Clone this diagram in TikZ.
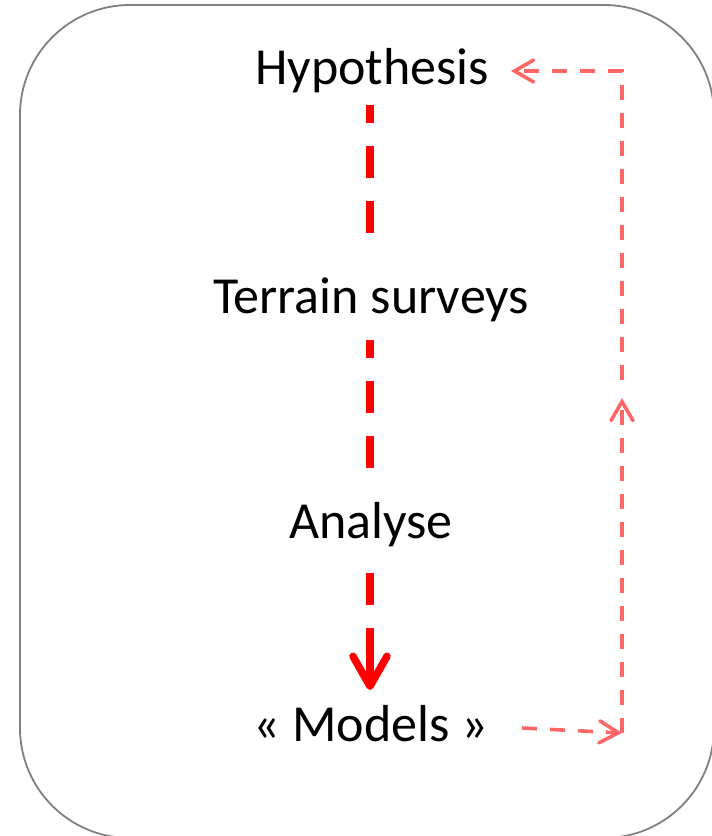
\documentclass[tikz,border=0pt]{standalone}
\usepackage{fontspec}
\setmainfont{Carlito}
\usetikzlibrary{arrows.meta}
\definecolor{framegray}{RGB}{128,128,128}
\definecolor{loopred}{RGB}{255,102,102}
\begin{document}
\begin{tikzpicture}[x=1pt,y=-1pt,
  label/.style={font=\fontsize{52}{58}\selectfont, anchor=base, inner sep=0pt},
  mainflow/.style={draw=red, line width=8pt, dash pattern=on 32pt off 23pt},
  feedback/.style={draw=loopred, line width=3.6pt, dash pattern=on 15pt off 13pt},
  fbtip/.style={-{Straight Barb[length=19pt,width=22pt,line cap=round]}}
]
\useasboundingbox (0,0) rectangle (712,836);
% frame: rounded box that runs past the right and bottom edges
\draw[framegray, line width=1.8pt, rounded corners=110pt] (20,5) rectangle (714,838);

% stage labels
\node[label] (hyp) at (372,84) {Hypothesis};
\node[label] (ter) at (371,313) {Terrain surveys};
\node[label] (ana) at (371,538) {Analyse};
\node[label] (mod) at (371,741) {« Models »};

% main sequence
\coordinate (h1) at (370,105);
\coordinate (h2) at (370,235);
\coordinate (t1) at (370,340);
\coordinate (t2) at (370,470);
\coordinate (a1) at (370,573);
\coordinate (a2) at (370,690);
\draw[mainflow, dash phase=14pt] (h1) -- (h2);
\draw[mainflow, dash phase=14pt] (t1) -- (t2);
\draw[mainflow] (a1) -- (370,660);
\draw[red, line width=7.5pt, -{Straight Barb[length=30pt,width=34pt,line cap=round,line join=round]}] (370,655) -- (a2);

% feedback loop
\coordinate (m1) at (522,728);
\coordinate (c1) at (622,733);
\coordinate (c2) at (622,398);
\coordinate (c3) at (622,71);
\coordinate (h3) at (511,71);
\draw[feedback, fbtip] (m1) -- (c1);
\draw[feedback, fbtip] (c1) -- (c2);
\draw[feedback, fbtip] (622,380) -- (c3) -- (h3);
\end{tikzpicture}
\end{document}
